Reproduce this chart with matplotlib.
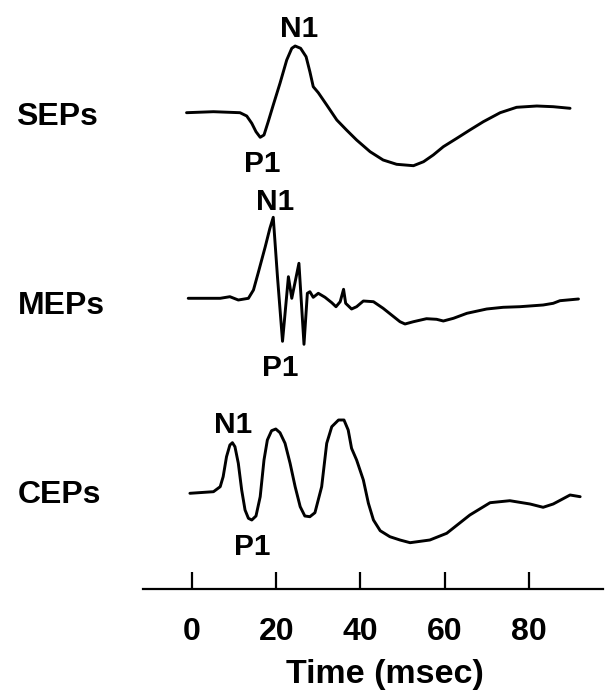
import matplotlib
matplotlib.use("Agg")
import matplotlib.pyplot as plt

plt.rcParams['font.family'] = ['Liberation Sans', 'DejaVu Sans']
plt.rcParams['font.weight'] = 'bold'

# ---------------- data (time in msec, amplitude in arbitrary units, up = positive) ----
sep_t = [-1.3, 5.1, 11.4, 13.0, 14.2, 15.2, 16.2, 17.1, 18.1, 19.3, 20.9, 22.5, 23.7,
         24.5, 25.8, 27.1, 28.0, 28.8, 30.0, 32.0, 34.4, 36.7, 39.1, 42.3, 45.4, 48.6,
         52.6, 55.0, 57.3, 59.7, 62.9, 66.0, 69.2, 73.2, 77.1, 81.9, 85.8, 89.8]
sep_v = [0.06, 0.16, 0.06, -0.27, -1.0, -1.84, -2.4, -2.17, -0.84, 0.83, 3.0, 5.33, 6.5,
         6.73, 6.5, 5.66, 4.16, 2.66, 2.06, 0.83, -0.67, -1.67, -2.67, -3.84, -4.67, -5.1,
         -5.24, -4.84, -4.17, -3.34, -2.5, -1.67, -0.84, 0.06, 0.6, 0.73, 0.66, 0.5]

mep_t = [-0.9, 1.9, 6.7, 9.0, 11.0, 13.4, 14.6, 15.8, 17.4, 18.5, 19.3, 20.3, 21.5,
         22.9, 23.7, 25.4, 26.6, 27.4, 28.0, 28.8, 30.0, 31.6, 33.2, 34.2, 35.2, 36.0,
         36.5, 37.9, 39.1, 40.7, 43.1, 45.4, 49.4, 50.6, 52.6, 55.7, 58.1, 59.7, 62.1,
         65.3, 70.0, 73.9, 77.9, 83.4, 85.8, 87.4, 91.8]
mep_v = [0.0, 0.0, 0.0, 0.16, -0.17, 0.0, 0.83, 2.66, 5.16, 7.0, 8.1, 2.16, -4.3,
         2.16, 0.0, 3.5, -4.6, 0.5, 0.66, 0.1, 0.5, 0.1, -0.44, -0.84, -0.34, 0.9,
         -0.5, -1.07, -0.84, -0.27, -0.34, -1.0, -2.34, -2.57, -2.34, -2.04, -2.1, -2.27, -2.0,
         -1.5, -1.07, -0.9, -0.84, -0.67, -0.5, -0.24, -0.07]

cep_t = [-0.5, 5.1, 6.7, 7.4, 8.2, 9.0, 9.6, 10.2, 11.0, 11.8, 12.6, 13.4, 14.2, 15.2,
         16.2, 17.1, 17.9, 18.9, 19.9, 20.9, 22.1, 23.3, 24.5, 25.7, 26.8, 28.0, 29.2,
         30.8, 32.0, 33.2, 34.8, 36.1, 37.1, 37.9, 39.1, 40.7, 41.9, 43.1, 44.7, 47.0,
         49.4, 51.8, 56.5, 60.5, 66.0, 70.8, 75.5, 80.3, 83.4, 85.8, 89.8, 92.2]
cep_v = [0.0, 0.16, 0.66, 1.66, 3.66, 4.83, 5.06, 4.66, 3.0, 0.33, -1.67, -2.5, -2.67, -2.27,
         -0.34, 3.33, 5.33, 6.26, 6.43, 6.06, 5.0, 3.0, 0.66, -1.34, -2.27, -2.34, -1.94,
         0.66, 5.0, 6.66, 7.33, 7.33, 6.33, 4.5, 3.33, 1.33, -1.0, -2.67, -3.74, -4.34,
         -4.67, -4.94, -4.67, -4.0, -2.17, -0.94, -0.74, -1.07, -1.4, -1.07, -0.17, -0.34]

names = ["SEPs", "MEPs", "CEPs"]
tick_vals = [0, 20, 40, 60, 80]
tick_labels = ["0", "20", "40", "60", "80"]
xlabel = "Time (msec)"

# ---------------- layout ----------------
W, H = 610, 695
fig = plt.figure(figsize=(W / 100, H / 100), dpi=100)
axis_px = 589.0
ax = fig.add_axes([143 / W, (H - axis_px) / H, 460 / W, axis_px / H])
x0px, pxpms = 192.0, 4.21
ax.set_xlim((143 - x0px) / pxpms, (603 - x0px) / pxpms)
ax.set_ylim(-axis_px / 10, 0)

offsets = [-11.33, -29.83, -49.33]
series = [(sep_t, sep_v), (mep_t, mep_v), (cep_t, cep_v)]
for (t, v), off in zip(series, offsets):
    ax.plot(t, [off + a for a in v], color='black', lw=2.1,
            solid_joinstyle='round', solid_capstyle='round', clip_on=False)

def px2x(px):
    return (px - x0px) / pxpms

def py2y(py):
    return -py / 10

fs = 23
# row names
for name, (lx, by) in zip(names, [(16, 125), (18, 314), (18, 503)]):
    ax.text(px2x(lx), py2y(by), name, ha='left', va='baseline', fontsize=fs,
            fontweight='bold', clip_on=False)

# peak annotations
ann = [("N1", 299, 36.7), ("P1", 262.5, 172),
       ("N1", 275.5, 210), ("P1", 280, 376.5),
       ("N1", 233, 433), ("P1", 252.5, 555)]
for s, cx, by in ann:
    ax.text(px2x(cx), py2y(by), s, ha='center', va='baseline', fontsize=21.5,
            fontweight='bold', clip_on=False)

# axis
for sp in ['top', 'right', 'left']:
    ax.spines[sp].set_visible(False)
ax.spines['bottom'].set_linewidth(1.6)
ax.set_yticks([])
ax.set_xticks(tick_vals)
ax.set_xticklabels(tick_labels, fontsize=fs, fontweight='bold')
ax.tick_params(axis='x', direction='in', length=12.5, width=1.6, pad=20)

fig.text(385 / W, (H - 683) / H, xlabel, ha='center', va='baseline',
         fontsize=24.5, fontweight='bold')

fig.savefig("out.png", dpi=100)
